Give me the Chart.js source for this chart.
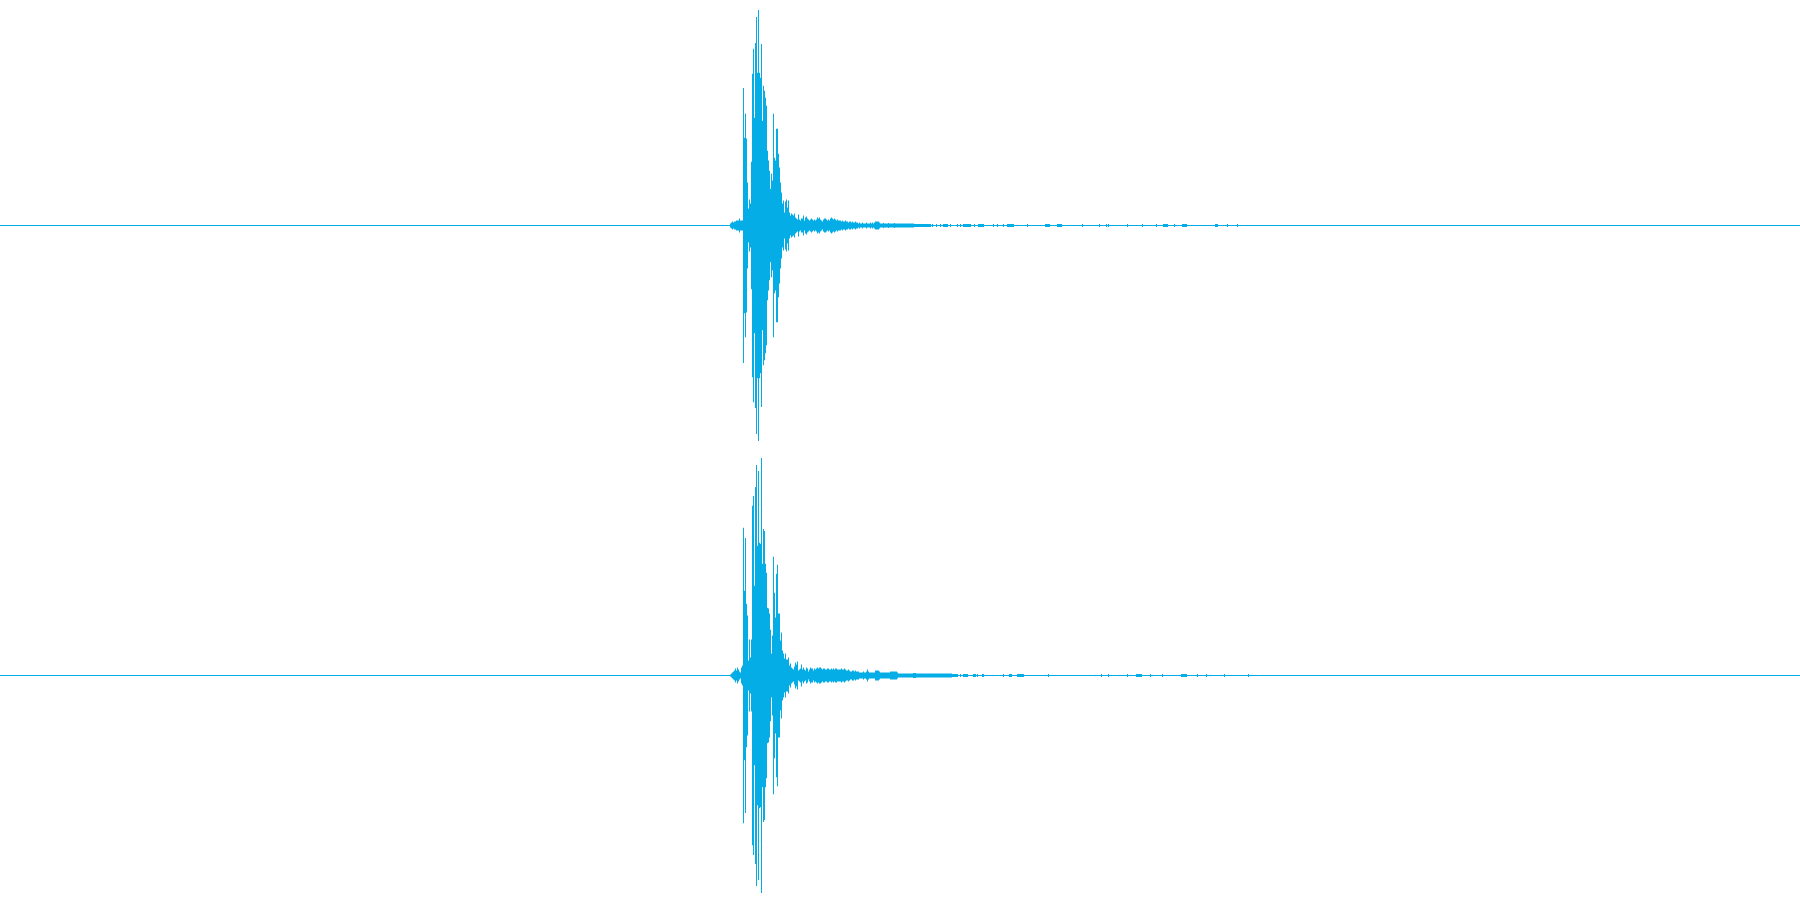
<!DOCTYPE html>
<html>
<head>
<meta charset="utf-8">
<script src="https://cdn.jsdelivr.net/npm/chart.js@4.4.1/dist/chart.umd.min.js"></script>
<style>
  html, body { margin: 0; padding: 0; background: #ffffff; overflow: hidden; }
  canvas { display: block; }
</style>
</head>
<body>
<canvas id="left" width="1800" height="450"></canvas>
<canvas id="right" width="1800" height="450"></canvas>
<script>
// waveform: peak amplitude per pixel column, percent of full scale
const totalCols = 1800;

// channel 1 (top)
const leftStart = 730;
const leftPeaks = [
  0.9, 1.3, 1.8, 1.3, 1.8, 1.8, 2.2, 2.2, 2.2, 3.1, 2.2, 2.2, 2.2,            // 730-742
  61.3, 39.1, 49.8, 38.7, 19.1, 7.6, 11.6, 9.8, 28.4, 67.6, 78.7, 48, 81.3,  // 743-755
  92.9, 68, 96, 68,                                                          // 756-759
  65.8, 80.9, 46.7, 62.2, 60, 56.9, 53.3, 33.3, 28.9, 24.4,                  // 760-769
  16.4, 23.1, 20, 49.8, 30.2, 28.9, 43.1, 43.1, 32, 25.8,                    // 770-779
  19.1, 14.7, 9.8, 11.1, 5.8, 10.7, 11.6, 8, 11.1, 5.8,                      // 780-789
  4.4, 5.3, 4.9, 4.4, 5.3, 3.6, 3.1, 2.7, 4.9, 2.7,                          // 790-799
  2.2, 3.1, 3.1, 4.4, 2.2, 3.6, 4, 3.1, 2.7, 2.2,
  2.7, 3.1, 2.7, 2.2, 2.7, 2.2, 2.7, 3.6, 3.1, 3.6,
  2.7, 2.2, 1.8, 2.7, 3.1, 3.1, 2.7, 2.2, 2.7, 2.2,
  3.1, 3.6, 3.1, 2.7, 3.1, 2.7, 2.2, 2.7, 2.2, 2.2,
  2.2, 1.8, 2.2, 1.8, 1.8, 2.2, 1.8, 1.8, 1.3, 1.8,
  1.8, 1.3, 1.8, 1.3, 1.3, 1.8, 1.3, 1.3, 0.9, 1.3,
  0.9, 0.9, 1.3, 0.9, 0.9, 0.9, 1.3, 0.9, 0.9, 0.9,
  1.3, 0.9, 1.3, 0.9, 1.3, 1.8, 1.8, 1.8, 1.8, 1.3,
  0.9, 0.9, 0.9, 1.1, 0.9, 0.9, 0.9, 0.9, 1.1, 0.9,
  0.9, 0.9, 0.9, 0.9, 1.1, 0.9, 0.9, 0.9, 0.9, 0.9,
  0.9, 0.9, 0.9, 0.9, 0.9, 0.9, 0.9, 0.9, 0.9, 0.9, 0.9, 0.9, 0.9, 0.9,
  0.7, 0.7, 0.7, 0.7, 0.7, 0.7, 0.7, 0.7, 0.7, 0.7, 0.7, 0.7, 0.7, 0.7, 0.7, 0.7, 0.7
];
const leftClicks = [932, 936, 940, 943, 944, 945, 946, 947, 950, 957, 960, 963, 964, 965, 966,
  967, 968, 969, 970, 974, 978, 979, 980, 981, 982, 983, 993, 997, 1003, 1007, 1008, 1009,
  1010, 1011, 1012, 1013, 1027, 1045, 1046, 1047, 1048, 1049, 1057, 1058, 1059, 1060, 1061,
  1082, 1099, 1106, 1108, 1127, 1142, 1156, 1163, 1164, 1165, 1166, 1167, 1174, 1182, 1183,
  1184, 1185, 1186, 1215, 1216, 1217, 1227, 1237];

// channel 2 (bottom)
const rightStart = 730;
const rightPeaks = [
  0.4, 0.9, 1.3, 1.8, 2.2, 3.1, 2.2, 3.6, 2.7, 1.8, 1.3, 3.6, 4.4,           // 730-742
  65.8, 37.8, 61.3, 32, 26.7, 6.7, 16, 8, 16, 75.6, 80, 40, 84,              // 743-755
  93.8, 57.8, 91.1, 59.1,                                                    // 756-759
  58.7, 96.9, 49.8, 65.3, 64.4, 49.8, 45.8, 30.2, 29.8, 27.6,
  20.4, 9.8, 17.8, 52.9, 36.9, 25.8, 45.3, 49.3, 27.6, 27.6,
  15.6, 19.1, 11.1, 9.8, 7.6, 9.8, 7.1, 7.1, 8, 4.4,
  5.3, 3.6, 3.1, 2.7, 4, 5.8, 4.9, 6.2, 2.2, 2.7,
  3.1, 4.9, 2.7, 3.6, 2.7, 2.2, 3.6, 3.1, 1.8, 2.7,
  3.6, 3.1, 3.1, 2.2, 3.1, 2.7, 3.1, 3.6, 3.1, 3.6,
  3.6, 3.1, 2.7, 3.1, 3.1, 2.7, 2.7, 3.1, 3.1, 2.7,
  2.7, 3.1, 2.7, 3.1, 2.7, 3.1, 3.1, 2.7, 2.7, 2.7,
  2.7, 3.1, 2.7, 2.7, 3.1, 2.7, 2.2, 2.2, 2.7, 2.2,
  1.8, 1.8, 2.2, 2.2, 1.8, 2.2, 1.8, 1.8, 1.8, 1.3,
  1.3, 1.3, 1.3, 1.8, 1.3, 1.3, 1.8, 2.7, 1.8, 1.3,
  1.3, 1.3, 1.3, 1.3, 1.3, 2.2, 2.2, 2.2, 2.2, 1.8,
  1.3, 1.3, 1.3, 1.3, 1.3, 1.3, 1.3, 1.3, 1.3, 1.3,
  1.8, 1.8, 1.8, 1.8, 1.8, 1.8, 1.8, 1.3, 0.9, 0.9,
  0.9, 0.9, 0.9, 0.9, 0.9, 0.9, 0.9, 0.9, 0.9, 0.9,
  0.9, 0.9, 0.9, 1.1, 1.1, 1.1, 0.9, 0.9, 0.9, 0.9,
  0.9, 0.9, 0.9, 0.9, 0.9, 0.9, 0.9, 0.9, 0.9, 0.9,
  0.9, 0.9, 0.9, 0.9, 0.9, 0.9, 0.9, 0.9, 0.9, 0.9,
  0.9, 0.9, 0.9, 0.9, 0.9, 0.9, 0.9, 0.9, 0.9, 0.9,
  0.9, 0.9, 0.7, 0.7, 0.7, 0.7, 0.7, 0.7
];
const rightClicks = [960, 963, 964, 965, 966, 967, 973, 974, 975, 977, 982, 983, 1003, 1009,
  1010, 1011, 1017, 1018, 1019, 1020, 1021, 1022, 1023, 1048, 1101, 1108, 1127, 1136, 1137,
  1138, 1139, 1140, 1141, 1150, 1162, 1181, 1182, 1183, 1184, 1185, 1186, 1197, 1206, 1224, 1248];
const clickPeak = 0.7;

const waveColor = '#05ade6';

function columns(start, peaks, clicks) {
  const pts = peaks.map((p, i) => ({ x: start + i + 0.5, y: [-p, p] }));
  clicks.forEach(c => pts.push({ x: c + 0.5, y: [-clickPeak, clickPeak] }));
  return pts;
}

function drawChannel(id, start, peaks, clicks) {
  const ctx = document.getElementById(id).getContext('2d');
  return new Chart(ctx, {
    type: 'bar',
    data: {
      datasets: [{
        type: 'line',
        data: [{ x: 0, y: 0 }, { x: totalCols, y: 0 }],
        borderColor: waveColor,
        borderWidth: 1,
        pointRadius: 0
      }, {
        data: columns(start, peaks, clicks),
        backgroundColor: waveColor,
        borderWidth: 0,
        barThickness: 1,
        inflateAmount: 0
      }]
    },
    options: {
      responsive: false,
      animation: false,
      devicePixelRatio: 1,
      layout: { padding: { top: 1 } },
      plugins: { legend: { display: false }, tooltip: { enabled: false } },
      scales: {
        x: { type: 'linear', min: 0, max: totalCols, offset: false, display: false },
        y: { min: -100, max: 100, display: false }
      }
    }
  });
}

drawChannel('left', leftStart, leftPeaks, leftClicks);
drawChannel('right', rightStart, rightPeaks, rightClicks);
</script>
</body>
</html>
